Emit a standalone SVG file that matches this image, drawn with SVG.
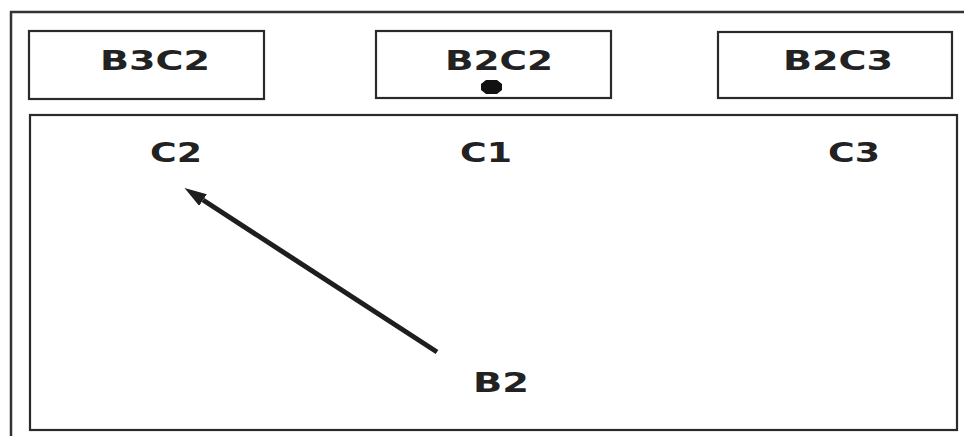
<svg xmlns="http://www.w3.org/2000/svg" width="964" height="436" viewBox="0 0 964 436">
<style>
.box{fill:#fff;stroke:#2a2a2a;stroke-width:2.2}
.lbl{font-family:"DejaVu Sans",Verdana,sans-serif;font-weight:bold;font-size:27px;fill:#222}
.conn{stroke:#1e1e1e;stroke-width:5;fill:none}
</style>
<defs>
<marker id="ah" markerUnits="userSpaceOnUse" markerWidth="22" markerHeight="14" refX="0" refY="7" orient="auto">
<path d="M0,0 L22,7 L0,14 z" fill="#1e1e1e"/>
</marker>
</defs>
<rect width="964" height="436" fill="#fff"/>
<path d="M11,436 V12 H964" fill="none" stroke="#333" stroke-width="2.5"/>
<g id="frame">
<rect class="box" x="30" y="115" width="927" height="315"/>
</g>
<g id="B3C2">
<rect class="box" x="29" y="31" width="235" height="68"/>
<text class="lbl" x="100" y="70" textLength="110" lengthAdjust="spacingAndGlyphs">B3C2</text>
</g>
<g id="B2C2">
<rect class="box" x="376" y="31" width="235" height="67"/>
<text class="lbl" x="445" y="70" textLength="108" lengthAdjust="spacingAndGlyphs">B2C2</text>
<path d="M486,80 H497 L502,84 V90 L497,94 H486 L481,90 V84 z" fill="#111"/>
</g>
<g id="B2C3">
<rect class="box" x="718" y="32" width="234" height="66"/>
<text class="lbl" x="783" y="70" textLength="110" lengthAdjust="spacingAndGlyphs">B2C3</text>
</g>
<g id="C2"><text class="lbl" x="150" y="162" textLength="52" lengthAdjust="spacingAndGlyphs">C2</text></g>
<g id="C1"><text class="lbl" x="460" y="162" textLength="52" lengthAdjust="spacingAndGlyphs">C1</text></g>
<g id="C3"><text class="lbl" x="828" y="162" textLength="52" lengthAdjust="spacingAndGlyphs">C3</text></g>
<g id="B2"><text class="lbl" x="473" y="392" textLength="56" lengthAdjust="spacingAndGlyphs">B2</text></g>
<g id="connectors">
<line class="conn" x1="437" y1="352" x2="203" y2="200" marker-end="url(#ah)"/>
</g>
</svg>
